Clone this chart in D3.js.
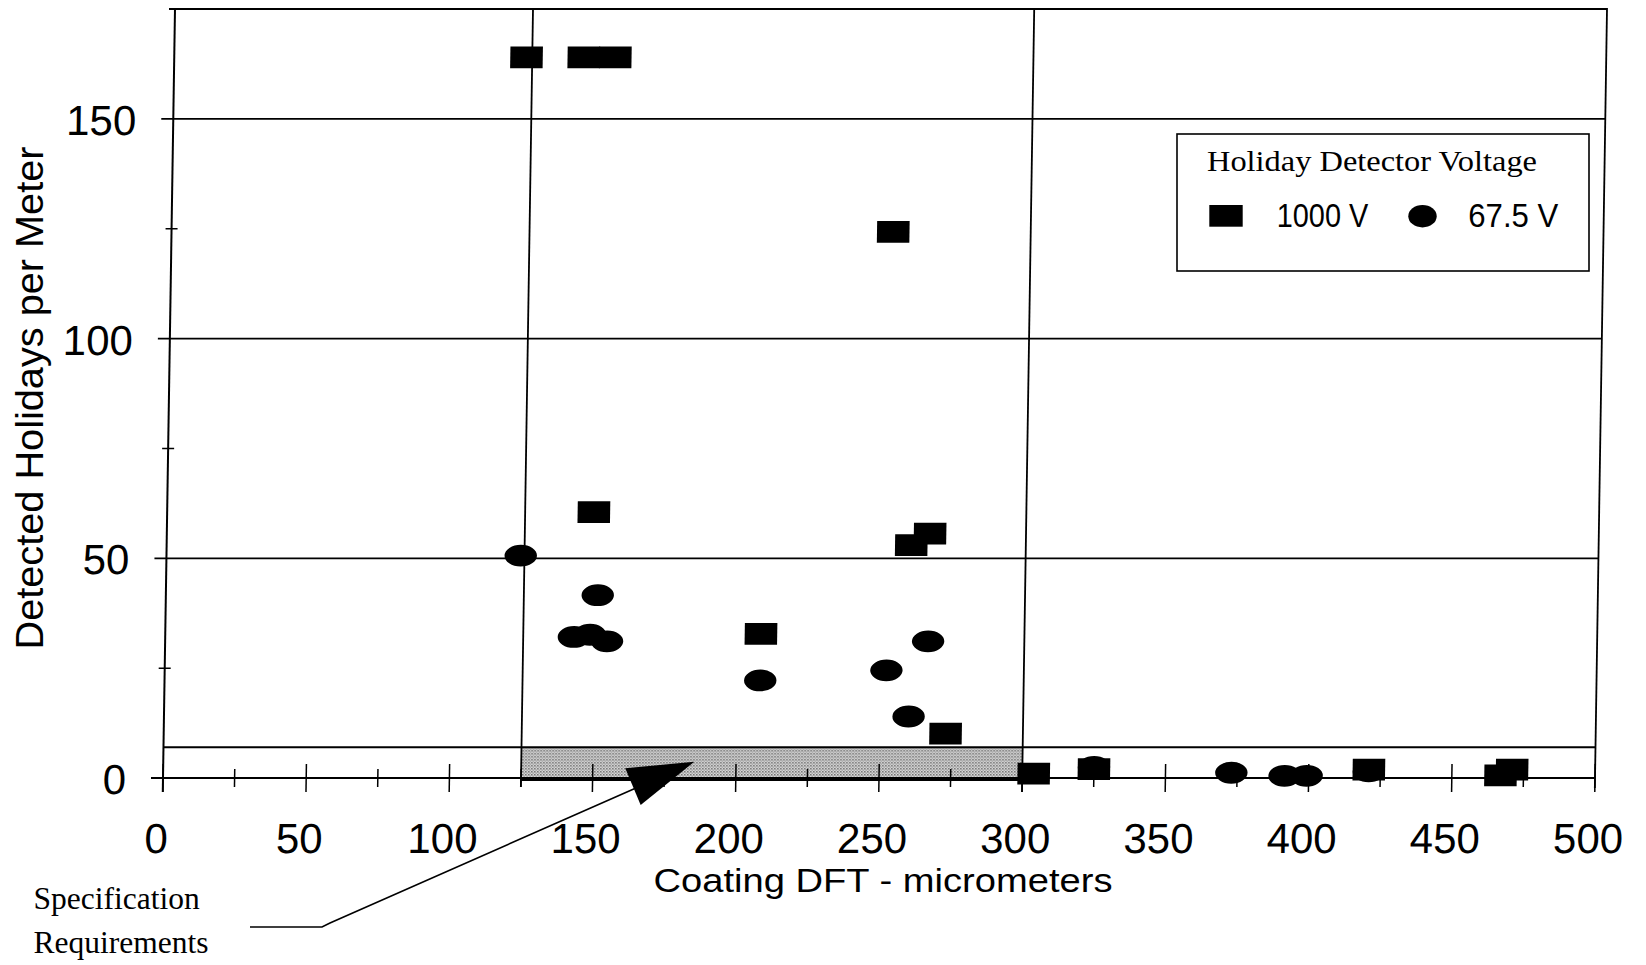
<!DOCTYPE html>
<html><head><meta charset="utf-8">
<script src="https://cdn.jsdelivr.net/npm/d3@7"></script>
<style>html,body{margin:0;padding:0;background:#fff;} svg{display:block;}</style>
</head><body>
<svg id="chart" width="1646" height="965"></svg>
<script>
// ---- data ----
const dft1000      = [123, 143, 154, 252, 149, 260, 266.5, 208, 273, 304, 325, 421, 467, 471];
const holidays1000 = [164, 164, 164, 124.3, 60.5, 53, 55.6, 32.8, 10.1, 1.0, 2.0, 1.9, 0.6, 1.9];
const dft675       = [123.7, 150.8, 142.7, 148.3, 154.3, 208, 252, 266.4, 260, 325, 373, 391.6, 399.3, 421];
const holidays675  = [50.6, 41.6, 32.1, 32.6, 31.1, 22.2, 24.5, 31.1, 14, 2.5, 1.2, 0.5, 0.5, 1.5];

const xTicks  = [0,25,50,75,100,125,150,175,200,225,250,275,300,325,350,375,400,425,450,475,500];
const xLabels = [0,50,100,150,200,250,300,350,400,450,500];
const yMajor  = [0,50,100,150];
const yMinor  = [25,75,125];
const xDomain = [0,500];
const yDomain = [0,175];
const specDFT = [125,300];
const specHolidays = [0,7];
const seriesNames = ["1000 V","67.5 V"];
const legendTitle = "Holiday Detector Voltage";
const xTitle = "Coating DFT - micrometers";
const yTitle = "Detected Holidays per Meter";
const noteLines = ["Specification","Requirements"];
const arrowTip = {dft:185.5, holidays:3.7};

// ---- scales ----
const svg = d3.select("#chart");
const x = d3.scaleLinear().domain(xDomain).range([163, 1595]);
const y = d3.scaleLinear().domain(yDomain).range([778, 9]);
const X0 = x(0), X1 = x(500), Y0 = y(0), YT = y(175);
const sw = 1.8;
// the scanned original leans slightly (top edge ~12px right of bottom edge)
const lean = 12 / (Y0 - YT);
const leanDeg = -Math.atan(lean) * 180 / Math.PI;

// pattern for spec band
const defs = svg.append("defs");
const pat = defs.append("pattern").attr("id","stip").attr("width",3).attr("height",3).attr("patternUnits","userSpaceOnUse");
pat.append("rect").attr("width",3).attr("height",3).attr("fill","#dadada");
pat.append("rect").attr("width",1.5).attr("height",1.5).attr("fill","#6e6e6e");
pat.append("rect").attr("x",1.5).attr("y",1.5).attr("width",1.3).attr("height",1.3).attr("fill","#8e8e8e");

svg.append("rect").attr("width",1646).attr("height",965).attr("fill","#fff");

const g = svg.append("g").attr("transform", `translate(${lean*Y0},0) skewX(${leanDeg})`);

// spec band
g.append("rect")
  .attr("x", x(specDFT[0])).attr("y", y(specHolidays[1]))
  .attr("width", x(specDFT[1]) - x(specDFT[0]))
  .attr("height", y(specHolidays[0]) - y(specHolidays[1]) + 2)
  .attr("fill","url(#stip)");
g.append("line").attr("x1",x(specDFT[0])).attr("x2",x(specDFT[1])).attr("y1",Y0+2).attr("y2",Y0+2)
  .attr("stroke","#000").attr("stroke-width",2);

const line = (x1,y1,x2,y2,w) => g.append("line").attr("x1",x1).attr("y1",y1).attr("x2",x2).attr("y2",y2)
  .attr("stroke","#000").attr("stroke-width",w||sw).attr("stroke-linecap","butt");

// horizontal gridlines
yMajor.forEach(v => line(X0-12, y(v), X1, y(v)));
line(X0-6, YT, X1, YT);
line(X0, y(specHolidays[1]), X1, y(specHolidays[1]));
// vertical lines
line(X0, YT-1, X0, Y0+14, 2);
line(X1, YT-1, X1, Y0+10);
specDFT.forEach(v => line(x(v), YT-1, x(v), Y0 + (xLabels.includes(v)?14:9)));
// x ticks
xTicks.forEach(v => {
  const L = xLabels.includes(v) ? 14 : 9;
  line(x(v), Y0-L, x(v), Y0+L, 1.5);
});
// y minor ticks
yMinor.forEach(v => line(X0-6, y(v), X0+6, y(v), 1.5));

// tick labels
g.selectAll(".xl").data(xLabels).enter().append("text")
  .attr("x", d => x(d) - 6).attr("y", Y0 + 75)
  .attr("text-anchor","middle").attr("font-family","Liberation Sans, Arial, sans-serif")
  .attr("font-size",42).attr("fill","#000").text(d => d);
g.selectAll(".yl").data(yMajor).enter().append("text")
  .attr("x", X0 - 37).attr("y", d => y(d) + 16)
  .attr("text-anchor","end").attr("font-family","Liberation Sans, Arial, sans-serif")
  .attr("font-size",42).attr("fill","#000").text(d => d);

// data marks
const rw = 32.5, rh = 21.7;
g.selectAll(".c").data(dft675.map((d,i)=>[d,holidays675[i]])).enter().append("ellipse")
  .attr("cx", d => x(d[0])).attr("cy", d => y(d[1])).attr("rx",16.2).attr("ry",10.9).attr("fill","#000");
g.selectAll(".s").data(dft1000.map((d,i)=>[d,holidays1000[i]])).enter().append("rect")
  .attr("x", d => x(d[0]) - rw/2).attr("y", d => y(d[1]) - rh/2).attr("width",rw).attr("height",rh).attr("fill","#000");

// axis titles
svg.append("text").attr("x",883).attr("y",892).attr("text-anchor","middle")
  .attr("font-family","Liberation Sans, Arial, sans-serif").attr("font-size",34)
  .attr("textLength",459).attr("lengthAdjust","spacingAndGlyphs").text(xTitle);
svg.append("text").attr("transform","translate(43,398) rotate(-90)").attr("text-anchor","middle")
  .attr("font-family","Liberation Sans, Arial, sans-serif").attr("font-size",39.5)
  .attr("textLength",503).attr("lengthAdjust","spacingAndGlyphs").text(yTitle);

// legend
const lg = svg.append("g");
lg.append("rect").attr("x",1177).attr("y",134).attr("width",412).attr("height",137)
  .attr("fill","#fff").attr("stroke","#000").attr("stroke-width",1.6);
lg.append("text").attr("x",1207).attr("y",171).attr("font-family","Liberation Serif, Times New Roman, serif")
  .attr("font-size",30).attr("textLength",330).attr("lengthAdjust","spacingAndGlyphs").text(legendTitle);
lg.append("rect").attr("x",1209.3).attr("y",205).attr("width",33.4).attr("height",21.7).attr("fill","#000");
lg.append("text").attr("x",1276.7).attr("y",227.3).attr("font-family","Liberation Sans, Arial, sans-serif")
  .attr("font-size",33).attr("textLength",91.6).attr("lengthAdjust","spacingAndGlyphs").text(seriesNames[0]);
lg.append("ellipse").attr("cx",1422.5).attr("cy",216.2).attr("rx",14.2).attr("ry",11.2).attr("fill","#000");
lg.append("text").attr("x",1468.3).attr("y",227.3).attr("font-family","Liberation Sans, Arial, sans-serif")
  .attr("font-size",33).attr("textLength",90).attr("lengthAdjust","spacingAndGlyphs").text(seriesNames[1]);

// annotation
const tx = x(arrowTip.dft), ty = y(arrowTip.holidays);
svg.append("path")
  .attr("d", `M250,927 L322,927 Q326,925 330,923 L${tx-60},${ty+27}`)
  .attr("fill","none").attr("stroke","#000").attr("stroke-width",1.6);
svg.append("path")
  .attr("d", `M${tx},${ty} L${tx-69},${ty+6.6} L${tx-53.6},${ty+43.3} Z`).attr("fill","#000");
noteLines.forEach((t,i) => svg.append("text").attr("x",33.5).attr("y",909 + i*44)
  .attr("font-family","Liberation Serif, Times New Roman, serif").attr("font-size",31.5).text(t));
</script>
</body></html>
